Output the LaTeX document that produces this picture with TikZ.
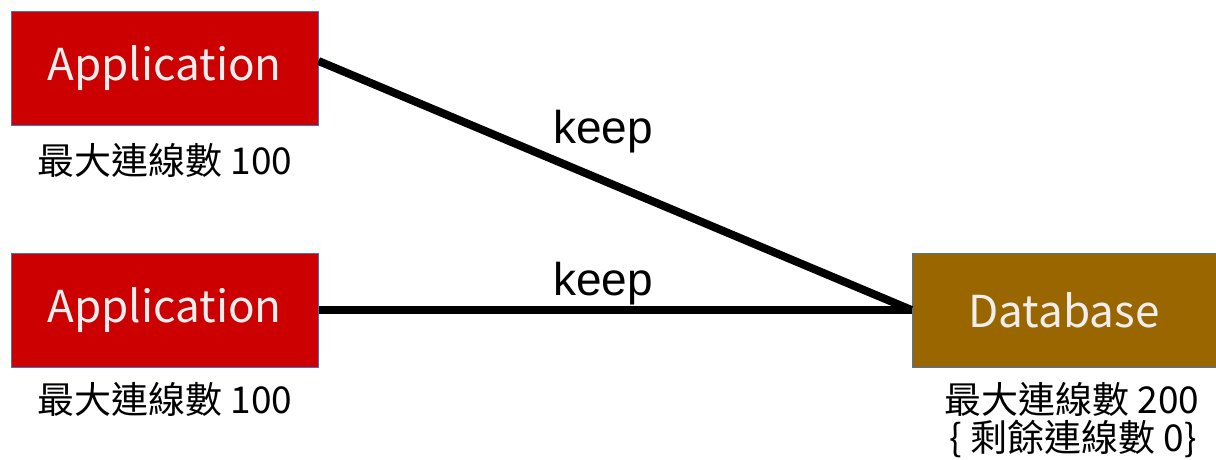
\documentclass[tikz,border=0pt]{standalone}
\usepackage{fontspec}
\setmainfont{Noto Sans CJK TC}
\newfontfamily\keepfont{Liberation Sans}
\definecolor{appred}{HTML}{CC0000}
\definecolor{dbbrown}{HTML}{996600}
\definecolor{edgeblue}{HTML}{4472C4}
\definecolor{boxtext}{HTML}{EEEEEE}
\tikzset{
  box/.style={rectangle, draw=edgeblue, line width=1pt, minimum height=114pt, inner sep=0pt, text=boxtext, font=\fontsize{44}{48}\selectfont},
  appbox/.style={box, fill=appred, minimum width=307pt},
  dbbox/.style={box, fill=dbbrown, minimum width=304pt},
  caption/.style={font=\fontsize{37}{41}\selectfont, text=black, inner sep=0pt},
  keeplabel/.style={font=\keepfont\fontsize{46}{50}\selectfont, inner sep=0pt, anchor=base},
  link/.style={line width=8pt, black}
}
\begin{document}
\begin{tikzpicture}[x=1pt,y=-1pt]
\useasboundingbox (0,0) rectangle (1216,459);
\node[appbox] (app1) at (164.5,68) {Application};
\node[appbox] (app2) at (164.5,310) {Application};
\node[dbbox] (db) at (1064,310) {Database};
\node[caption] (cap1) at (165,160) {最大連線數 100};
\node[caption] (cap2) at (165,399) {最大連線數 100};
\node[caption] (cap3) at (1072,399) {最大連線數 200};
\node[caption] (cap4) at (1073,439) {\{ 剩餘連線數 0\}};
\draw[link] ([yshift=7pt]app1.east) -- (db.west);
\draw[link] (app2.east) -- (db.west);
\node[keeplabel] (k1) at (603,143) {keep};
\node[keeplabel] (k2) at (603,295) {keep};
\end{tikzpicture}
\end{document}
